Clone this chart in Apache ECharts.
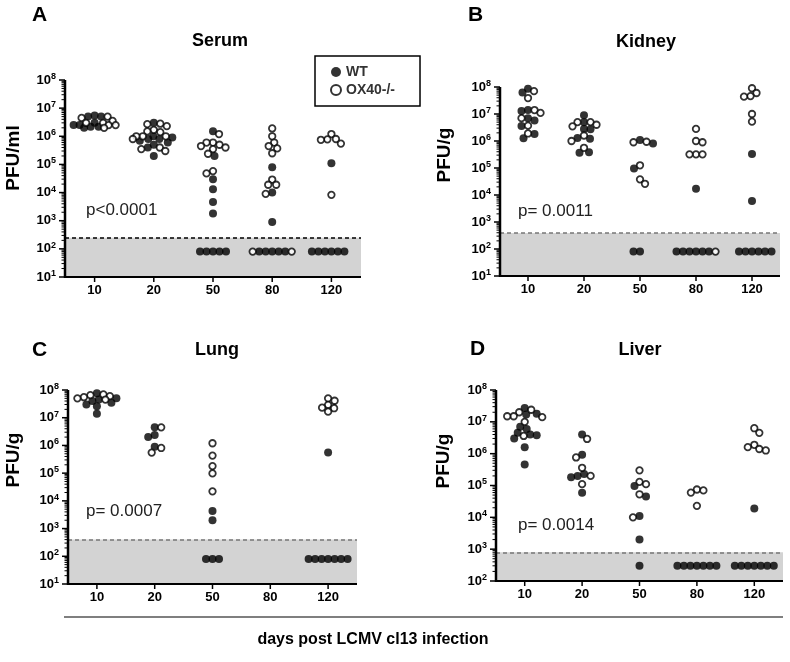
<!DOCTYPE html>
<html><head><meta charset="utf-8">
<script src="https://cdn.jsdelivr.net/npm/echarts@6/dist/echarts.min.js"></script>
<style>html,body{margin:0;padding:0;background:#fff}#c{width:790px;height:662px}</style>
</head><body><div id="c"></div>
<script>
// ---------------- DATA ----------------
const days = ['10', '20', '50', '80', '120'];
const seriesNames = ['WT', 'OX40-/-'];
const panelTitles = ['Serum', 'Kidney', 'Lung', 'Liver'];
const panelLetters = ['A', 'B', 'C', 'D'];
const yTitles = ['PFU/ml', 'PFU/g', 'PFU/g', 'PFU/g'];
const pValues = ['p<0.0001', 'p= 0.0011', 'p= 0.0007', 'p= 0.0014'];
const detectionLimits = [250, 390, 400, 800];
const yMinExponents = [1, 1, 1, 2];
const yMaxExponent = 8;
const xAxisTitle = 'days post LCMV cl13 infection';

// Serum (A)
const serumWT = [
  [5.5e6, 5e6, 5e6, 3e6, 2.5e6, 2.5e6, 2.2e6, 2.2e6, 2e6],
  [3e6, 1e6, 9e5, 8e5, 8e5, 7e5, 6e5, 5e5, 4e5, 2e5],
  [1.5e6, 2e5, 3e4, 1.3e4, 4.6e3, 1.8e3, 80, 80, 80, 80, 80],
  [8e4, 1e4, 9e2, 80, 80, 80, 80, 80],
  [1.1e5, 80, 80, 80, 80, 80, 80]
];
const serumKO = [
  [5e6, 4.5e6, 3.5e6, 3e6, 3e6, 2.5e6, 2.5e6, 2e6],
  [2.8e6, 2.7e6, 2.3e6, 1.7e6, 1.5e6, 1.4e6, 1e6, 1e6, 1e6, 8e5, 4e5, 3.5e5, 3e5],
  [1.2e6, 6e5, 6e5, 5e5, 4.5e5, 4e5, 3.5e5, 2.4e5, 5.8e4, 4.8e4],
  [1.9e6, 1e6, 6e5, 4.5e5, 3.7e5, 2.5e5, 2.9e4, 1.9e4, 1.9e4, 9e3, 80, 80],
  [1.2e6, 8e5, 7.8e5, 7.5e5, 5.5e5, 8.3e3]
];
// Kidney (B)
const kidneyWT = [
  [8.7e7, 6.2e7, 1.4e7, 1.3e7, 7e6, 5.7e6, 3.6e6, 1.8e6, 1.26e6],
  [9e6, 5e6, 2.8e6, 2.7e6, 1.3e6, 1.2e6, 3.8e5, 3.7e5],
  [1.1e6, 8e5, 9.6e4, 80, 80],
  [1.7e4, 80, 80, 80, 80, 80, 80],
  [3.3e5, 6e3, 80, 80, 80, 80, 80, 80]
];
const kidneyKO = [
  [7e7, 3.9e7, 1.4e7, 1.1e7, 7e6, 3.7e6, 1.9e6],
  [5e6, 5e6, 4e6, 3.5e6, 1.6e6, 1e6, 5.6e5],
  [9.4e5, 9e5, 1.26e5, 3.8e4, 2.6e4],
  [2.8e6, 1e6, 9e5, 3.2e5, 3.2e5, 3.2e5, 80],
  [9e7, 6e7, 4.6e7, 4.4e7, 1e7, 5.2e6]
];
// Lung (C)
const lungWT = [
  [7.6e7, 5e7, 4.5e7, 4e7, 3.5e7, 3e7, 2.6e7, 1.4e7],
  [4.5e6, 2.4e6, 2e6, 8.9e5],
  [4.3e3, 2e3, 80, 80, 80],
  [],
  [5.5e5, 80, 80, 80, 80, 80, 80, 80]
];
const lungKO = [
  [6.9e7, 6.5e7, 6e7, 5.5e7, 5e7, 4.5e7],
  [4.5e6, 8.1e5, 5.5e5],
  [1.2e6, 4.3e5, 1.8e5, 9.8e4, 2.2e4],
  [],
  [5e7, 4.1e7, 2.9e7, 2.3e7, 2.2e7, 1.65e7]
];
// Liver (D)
const liverWT = [
  [2.7e7, 1.8e7, 1.7e7, 7e6, 6e6, 4.5e6, 4e6, 3.8e6, 3e6, 1.6e6, 4.6e5],
  [4e6, 9.2e5, 2.3e5, 2e5, 1.8e5, 5.9e4],
  [9.6e4, 4.5e4, 1.1e4, 2e3, 300],
  [300, 300, 300, 300, 300, 300, 300],
  [1.9e4, 300, 300, 300, 300, 300, 300, 300]
];
const liverKO = [
  [2.4e7, 2e7, 1.5e7, 1.5e7, 1.4e7, 1e7, 3.6e6],
  [2.9e6, 7.6e5, 3.6e5, 2e5, 1.1e5],
  [3e5, 1.3e5, 1.1e5, 5.3e4, 1e4],
  [7.5e4, 7e4, 6e4, 2.3e4],
  [6.3e6, 4.5e6, 1.9e6, 1.6e6, 1.4e6, 1.26e6]
];
const wtData = [serumWT, kidneyWT, lungWT, liverWT];
const koData = [serumKO, kidneyKO, lungKO, liverKO];

// ---------------- LAYOUT ----------------
const FONT = '"Liberation Sans", Arial, sans-serif';
const grids = [
  { left: 65, top: 80, width: 296, height: 197 },
  { left: 500, top: 87, width: 280, height: 189 },
  { left: 68, top: 390, width: 289, height: 194 },
  { left: 496, top: 390, width: 287, height: 191 }
];
const letterPos = [[32, 15], [468, 15], [32, 350], [470, 349]];
const titlePos = [[220, 41], [646, 42], [217, 350], [640, 350]];
const yTitlePos = [[14, 158], [445, 155], [14, 460], [444, 461]];
const pPos = [[86, 210], [518, 211], [86, 511], [518, 525]];
const lodColors = ['#000', '#777', '#777', '#777'];

// beeswarm placement in pixel space (dots kept within +-halfW px of the day's centre)
function swarm(points, g, yMin, yMax, minD, halfW) {
  const placed = [];
  let prefer = 1;
  const pts = points.slice().sort((a, b) => b.v - a.v);
  pts.forEach(p => {
    const y = (yMax - Math.log10(p.v)) / (yMax - yMin) * g.height;
    let chosen = null, bestX = 0, bestD = -1;
    for (let k = 0; k <= halfW * 2 && chosen === null; k++) {
      const cands = k === 0 ? [0] : [prefer * k * 0.5, -prefer * k * 0.5];
      for (const x of cands) {
        let dmin = Infinity;
        placed.forEach(q => { const d = Math.hypot(q.x - x, q.y - y); if (d < dmin) dmin = d; });
        if (dmin >= minD) { chosen = x; break; }
        if (dmin > bestD) { bestD = dmin; bestX = x; }
      }
    }
    if (chosen === null) chosen = bestX;
    if (chosen !== 0) prefer = chosen > 0 ? -1 : 1;
    placed.push({ x: chosen, y: y, v: p.v, t: p.t });
  });
  return placed;
}

// axis lines and ticks drawn through the cartesian scales (api.coord)
function axisRenderer(yMin, yMax) {
  return function (params, api) {
    const ch = [];
    const L = (a, b, w) => ch.push({ type: 'line', shape: { x1: a[0], y1: a[1], x2: b[0], y2: b[1] }, style: { stroke: '#000', lineWidth: w } });
    const o = api.coord([0.5, yMin]), t = api.coord([0.5, yMax]), r = api.coord([5.5, yMin]);
    L([o[0], t[1]], [o[0], o[1] + 1], 2.5);
    L([o[0] - 1, o[1]], [r[0], r[1]], 2);
    for (let e = yMin; e <= yMax; e++) { const p = api.coord([0.5, e]); L([p[0] - 6, p[1]], [p[0], p[1]], 1.5); }
    for (let e = yMin; e < yMax; e++) for (let m = 2; m <= 9; m++) {
      const p = api.coord([0.5, e + Math.log10(m)]); L([p[0] - 3.5, p[1]], [p[0], p[1]], 1);
    }
    for (let d = 1; d <= days.length; d++) { const p = api.coord([d, yMin]); L([p[0], p[1]], [p[0], p[1] + 5], 1.5); }
    return { type: 'group', children: ch };
  };
}

const option = {
  animation: false,
  backgroundColor: '#fff',
  textStyle: { fontFamily: FONT },
  grid: [], xAxis: [], yAxis: [], series: [],
  legend: {
    data: seriesNames,
    orient: 'vertical',
    left: 315, top: 56,
    padding: [9, 25, 9, 15],
    itemGap: 4, itemWidth: 10, itemHeight: 10,
    borderColor: '#000', borderWidth: 1.5,
    selectedMode: false,
    textStyle: { fontWeight: 'bold', fontSize: 14, color: '#333' }
  },
  graphic: []
};

grids.forEach((g, gi) => {
  const yMin = yMinExponents[gi], yMax = yMaxExponent;
  option.grid.push({ left: g.left, top: g.top, width: g.width, height: g.height });
  option.xAxis.push({
    type: 'value', gridIndex: gi, min: 0.5, max: 5.5,
    axisLine: { show: false },
    axisTick: { show: false },
    axisLabel: { customValues: [1, 2, 3, 4, 5], formatter: v => days[Math.round(v) - 1] || '', fontSize: 13, fontWeight: 'bold', color: '#000', margin: 7 },
    splitLine: { show: false }
  });
  option.yAxis.push({
    type: 'value', gridIndex: gi, min: yMin, max: yMax, interval: 1,
    axisLine: { show: false },
    axisTick: { show: false },
    axisLabel: {
      color: '#000', margin: 9,
      formatter: v => '{b|10}{s|' + v + '}',
      rich: {
        b: { fontSize: 13, fontWeight: 'bold', color: '#000' },
        s: { fontSize: 9, fontWeight: 'bold', color: '#000', verticalAlign: 'bottom', padding: [0, 0, 7, 0] }
      }
    },
    splitLine: { show: false }
  });
  const pxPerUnit = g.width / 5;
  const wtPts = [], koPts = [];
  for (let d = 0; d < days.length; d++) {
    const pts = wtData[gi][d].map(v => ({ v, t: 0 })).concat(koData[gi][d].map(v => ({ v, t: 1 })));
    const placed = swarm(pts, g, yMin, yMax, 6.5, 21);
    placed.forEach(p => {
      const item = [d + 1 + p.x / pxPerUnit, Math.log10(p.v)];
      (p.t === 0 ? wtPts : koPts).push(item);
    });
  }
  const lod = Math.log10(detectionLimits[gi]);
  option.series.push({
    name: seriesNames[0], type: 'scatter', xAxisIndex: gi, yAxisIndex: gi,
    symbol: 'circle', symbolSize: 8, z: 3,
    itemStyle: { color: '#000' },
    data: wtPts,
    markArea: {
      silent: true,
      itemStyle: { color: '#d3d3d3' },
      data: [[{ coord: [0.5, yMin] }, { coord: [5.5, lod] }]]
    },
    markLine: {
      silent: true, symbol: 'none', label: { show: false },
      lineStyle: { color: lodColors[gi], type: [4, 3], width: 1.5 },
      data: [[{ coord: [0.5, lod] }, { coord: [5.5, lod] }]]
    }
  });
  option.series.push({
    name: seriesNames[1], type: 'scatter', xAxisIndex: gi, yAxisIndex: gi,
    symbol: 'circle', symbolSize: 6.5, z: 4,
    itemStyle: { color: '#fff', borderColor: '#000', borderWidth: 1.8 },
    data: koPts
  });
  option.series.push({
    type: 'custom', xAxisIndex: gi, yAxisIndex: gi, silent: true, clip: false, z: 6,
    renderItem: axisRenderer(yMin, yMax),
    data: [[1, yMin]]
  });

  option.graphic.push({
    type: 'text', x: letterPos[gi][0], y: letterPos[gi][1],
    style: { text: panelLetters[gi], fontFamily: FONT, fill: '#000', fontSize: 21, fontWeight: 'bold', align: 'left', verticalAlign: 'middle' }
  });
  option.graphic.push({
    type: 'text', x: titlePos[gi][0], y: titlePos[gi][1],
    style: { text: panelTitles[gi], fontFamily: FONT, fill: '#000', fontSize: 18, fontWeight: 'bold', align: 'center', verticalAlign: 'middle' }
  });
  option.graphic.push({
    type: 'text', x: yTitlePos[gi][0], y: yTitlePos[gi][1], rotation: Math.PI / 2,
    style: { text: yTitles[gi], fontFamily: FONT, fill: '#000', fontSize: 19, fontWeight: 'bold', align: 'center', verticalAlign: 'middle' }
  });
  option.graphic.push({
    type: 'text', x: pPos[gi][0], y: pPos[gi][1],
    style: { text: pValues[gi], fontFamily: FONT, fill: '#222', fontSize: 17, align: 'left', verticalAlign: 'middle' }
  });
});

option.graphic.push({
  type: 'line', shape: { x1: 64, y1: 617, x2: 783, y2: 617 },
  style: { stroke: '#555', lineWidth: 1.5 }
});
option.graphic.push({
  type: 'text', x: 373, y: 640,
  style: { text: xAxisTitle, fontFamily: FONT, fontSize: 16, fontWeight: 'bold', fill: '#000', align: 'center', verticalAlign: 'middle' }
});

const chart = echarts.init(document.getElementById('c'), null, { renderer: 'canvas', width: 790, height: 662 });
chart.setOption(option);
</script></body></html>
